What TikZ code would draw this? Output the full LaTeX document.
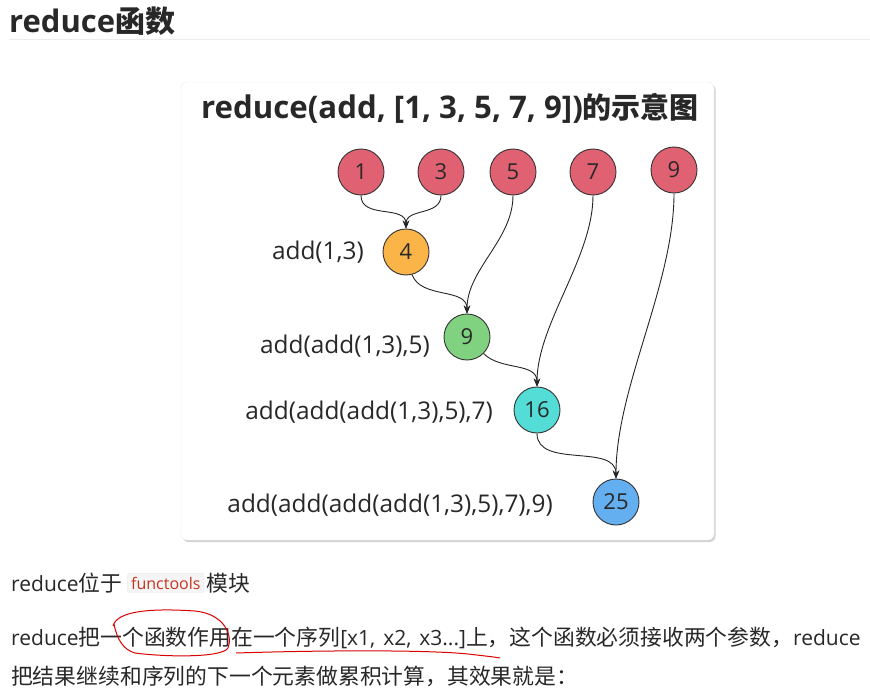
\documentclass[tikz,border=0pt]{standalone}
\usepackage{fontspec}
\setmainfont{Open Sans}
\newfontfamily\cjk{Noto Sans CJK SC}
\usetikzlibrary{shadows,arrows.meta}
\definecolor{cred}{RGB}{224,98,114}
\definecolor{corange}{RGB}{250,180,72}
\definecolor{cgreen}{RGB}{128,210,128}
\definecolor{ccyan}{RGB}{84,220,214}
\definecolor{cblue}{RGB}{100,175,240}
\definecolor{txt}{RGB}{40,40,40}
\definecolor{codered}{RGB}{200,50,30}
\tikzset{
  ball/.style={circle,draw=black!80,line width=0.9pt,minimum size=46pt,inner sep=0pt,text=txt,font=\fontsize{22}{22}\selectfont},
  lab/.style={anchor=east,text=txt,inner sep=0pt,font=\fontsize{24.4}{25}\selectfont},
  conn/.style={draw=black!85,line width=0.9pt,-{Stealth[length=8pt,width=6.5pt]}},
  para/.style={anchor=west,text=txt,inner sep=0pt,font=\fontsize{21}{22}\selectfont},
}
\newcommand{\zh}[1]{{\cjk\fontsize{21.8}{22}\selectfont #1}}
\begin{document}
\begin{tikzpicture}[x=1pt,y=-1pt]
\path[use as bounding box,fill=white] (0,0) rectangle (870,698);
% header
\node[anchor=west,inner sep=0pt,text=txt,font=\bfseries\fontsize{31}{31}\selectfont] (hdr) at (9,21) {reduce{\cjk\bfseries\fontsize{30}{30}\selectfont 函数}};
\draw[black!8,line width=1pt] (9,40) -- (870,40);
% card
\path[fill=white,draw=black!7,rounded corners=6pt,drop shadow={opacity=0.35,shadow xshift=1.5pt,shadow yshift=-2pt}] (181,82) rectangle (714,540);
\node[inner sep=0pt,text=txt,font=\bfseries\fontsize{31.2}{31}\selectfont] (ttl) at (450,108) {reduce(add, [1, 3, 5, 7, 9]){\cjk\bfseries\fontsize{29}{29}\selectfont 的示意图}};
% balls
\node[ball,fill=cred] (a1) at (361,172) {1};
\node[ball,fill=cred] (a3) at (441,172) {3};
\node[ball,fill=cred] (a5) at (513,172) {5};
\node[ball,fill=cred] (a7) at (593,172) {7};
\node[ball,fill=cred] (a9) at (674,170) {9};
\node[ball,fill=corange] (b4) at (406,252) {4};
\node[ball,fill=cgreen] (b9) at (467,337) {9};
\node[ball,fill=ccyan] (b16) at (537,410) {16};
\node[ball,fill=cblue] (b25) at (616,502) {25};
% labels
\node[lab] (l1) at (364,252) {add(1,3)};
\node[lab] (l2) at (430,346) {add(add(1,3),5)};
\node[lab] (l3) at (493,412) {add(add(add(1,3),5),7)};
\node[lab] (l4) at (553,505) {add(add(add(add(1,3),5),7),9)};
% connectors
\path[conn] (a1.south) to[out=-90,in=90,looseness=1.1] (b4.north);
\path[conn] (a3.south) to[out=-90,in=90,looseness=1.1] (b4.north);
\path[conn] (a5.south) to[out=-90,in=90,looseness=0.9] (b9.north);
\path[conn] (b4.-75) to[out=-70,in=90,looseness=1] (b9.north);
\path[conn] (a7.south) to[out=-90,in=90,looseness=0.8] (b16.north);
\path[conn] (b9.-45) to[out=-45,in=90,looseness=1] (b16.north);
\path[conn] (a9.south) to[out=-90,in=90,looseness=0.8] (b25.north);
\path[conn] (b16.south) to[out=-90,in=90,looseness=1] (b25.north);
% paragraphs
\node[para] (p1) at (11,583) {reduce\zh{位于}};
\node[anchor=west,inner sep=3.5pt,fill=black!4,draw=black!8,rounded corners=2pt,text=codered,font=\fontsize{16}{17}\selectfont] (code) at ([xshift=5pt]p1.east) {functools};
\node[para] (p1b) at ([xshift=2pt]code.east) {\zh{模块}};
\node[para] (p2) at (11,638) {reduce\zh{把一个函数作用在一个序列}[x1,\hspace{2.5pt} x2,\hspace{2.5pt} x3...]\zh{上，这个函数必须接收两个参数，}reduce};
\node[para] (p3) at (11,676) {\zh{把结果继续和序列的下一个元素做累积计算，其效果就是：}};
% red hand annotations
\draw[red!85!black,line width=1pt] (113,626) .. controls (117,611) and (150,608) .. (195,611) .. controls (225,614) and (233,636) .. (228,648) .. controls (222,658) and (165,657) .. (135,653) .. controls (124,650) and (117,640) .. (114,624);
\draw[red!85!black,line width=1pt] (236,653) .. controls (330,650) and (430,650) .. (468,654) .. controls (485,656) and (495,657) .. (500,658);
\end{tikzpicture}
\end{document}
